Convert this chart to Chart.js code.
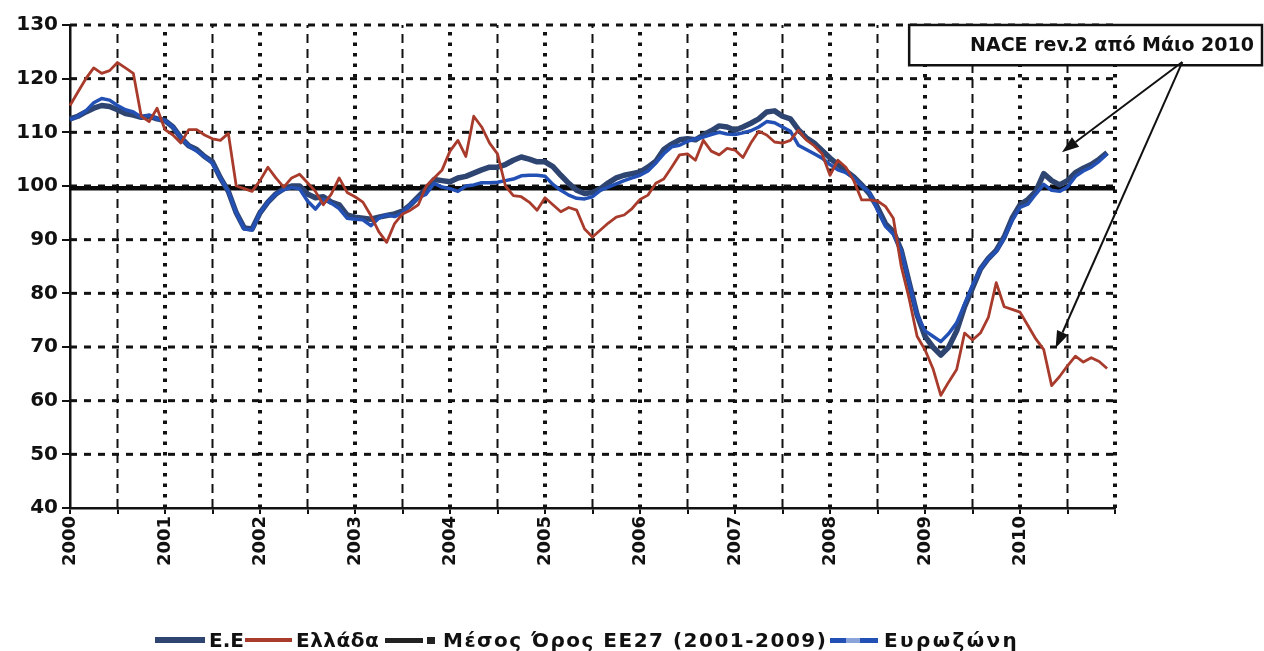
<!DOCTYPE html>
<html lang="el">
<head>
    <meta charset="UTF-8">
    <title>Δείκτης - Ε.Ε, Ελλάδα, Ευρωζώνη</title>
    <style>
        * {
            margin: 0;
            padding: 0;
            box-sizing: border-box;
        }

        body {
            background-color: #fff;
            font-family: "DejaVu Sans", Verdana, sans-serif;
        }

        .wrap {
            position: relative;
            width: 1264px;
            height: 651px;
        }

        .legend-item {
            position: absolute;
            top: 628px;
            display: flex;
            align-items: center;
            font-weight: bold;
            font-size: 20px;
            color: #111;
            white-space: nowrap;
        }

        .mark {
            display: inline-block;
            margin-right: 4px;
        }
    </style>
    <script src="https://cdn.jsdelivr.net/npm/chart.js"></script>
</head>
<body>
    <div class="wrap">
        <canvas id="chart" width="1264" height="651"></canvas>

        <!-- Legend -->
        <div class="legend-item" style="left:155px">
            <span class="mark" style="width:50px;height:6px;background:#2e4471"></span>Ε.Ε
        </div>
        <div class="legend-item" style="left:245px;letter-spacing:0.5px">
            <span class="mark" style="width:47px;height:4px;background:#a83b2b"></span>Ελλάδα
        </div>
        <div class="legend-item" style="left:385px;letter-spacing:1.5px">
            <span class="mark" style="width:38px;height:5px;background:#222"></span>
            <span class="mark" style="width:8px;height:7px;background:#222;margin-right:8px"></span>Μέσος Όρος ΕΕ27 (2001-2009)
        </div>
        <div class="legend-item" style="left:830px;letter-spacing:2.4px">
            <span class="mark" style="width:16px;height:5px;background:#2350b4;margin-right:0"></span>
            <span class="mark" style="width:14px;height:5px;background:#8aa3d8;margin-right:0"></span>
            <span class="mark" style="width:18px;height:5px;background:#2350b4;margin-right:6px"></span>Ευρωζώνη
        </div>
    </div>

    <script>
        // ---- data ----
        const years = ['2000', '2001', '2002', '2003', '2004', '2005', '2006', '2007', '2008', '2009', '2010'];
        const yTicks = [40, 50, 60, 70, 80, 90, 100, 110, 120, 130];

        // monthly values, Jan 2000 - Dec 2010
        const euValues = [
            112.5, 113, 113.8, 114.5, 115, 114.8, 114.2, 113.5, 113.2, 112.8, 113, 112.5,
            112.2, 111, 109, 107.5, 106.8, 105.5, 104.5, 101.5, 99, 95, 92.2, 92,
            95, 97, 98.5, 99.5, 100, 100, 98.5, 97.8, 98, 97, 96.5, 94.6,
            94.2, 94, 93.8, 94.2, 94.5, 94.8, 95.3, 96.5, 98, 99.5, 101.2, 101,
            100.8, 101.5, 101.8, 102.4, 103, 103.5, 103.5, 104, 104.8, 105.4, 105, 104.5,
            104.5, 103.6, 102, 100.5, 99.2, 98.6, 98.8, 99.5, 100.6, 101.5, 102, 102.3,
            102.6, 103.5, 104.6, 106.8, 107.8, 108.6, 108.8, 108.6, 109.5, 110.3, 111.2, 111,
            110.4, 111, 111.7, 112.5, 113.8, 114, 113, 112.5, 110.5, 109, 108, 106.6,
            105.2, 104, 102.8, 101.7, 100.2, 98.5, 96, 93, 91.5, 88, 82, 76,
            72, 70, 68.5, 70, 73, 77.5, 81, 84.5, 86.5, 88, 90.5, 94,
            96.5, 97.5, 99, 102.3, 101, 100.2, 101, 102.5, 103.3, 104, 105, 106.2
        ];

        const greeceValues = [
            115, 117.5, 120, 122, 121, 121.5, 123, 122, 121, 113, 112, 114.5,
            110.5, 109.5, 108, 110.5, 110.5, 109.5, 108.8, 108.5, 109.8, 100, 99.5, 99,
            101, 103.5, 101.5, 99.8, 101.5, 102.2, 100.6, 99, 96.5, 98.5, 101.5, 98.8,
            98, 97, 94.5, 91.5, 89.5, 93, 94.8, 95.5, 96.5, 100, 101.5, 103,
            106.5, 108.5, 105.5, 113, 111, 108, 106, 100, 98.2, 98, 97, 95.5,
            97.8, 96.5, 95.2, 96, 95.5, 92, 90.5, 91.8, 93.1, 94.2, 94.6, 95.8,
            97.5, 98.3, 100.5, 101.3, 103.5, 105.8, 106, 104.8, 108.5, 106.5, 105.8, 107,
            106.7, 105.3, 108, 110.2, 109.5, 108.2, 108, 108.5, 110.4, 108.6, 107.5, 106,
            102, 104.8, 103.5, 101, 97.4, 97.4, 97.2, 96.2, 94, 85, 79, 72,
            69.5, 66, 61, 63.5, 65.8, 72.6, 71.3, 72.6, 75.5, 82, 77.5, 77,
            76.5, 74, 71.5, 69.5, 62.8, 64.5, 66.5, 68.3, 67.2, 68, 67.3, 66
        ];

        const euroAreaValues = [
            112.3, 113, 114, 115.5, 116.3, 116, 115, 114.2, 113.8, 112.8, 113.2, 112.5,
            112.2, 111, 109, 107.5, 106.5, 105.5, 104.2, 101.5, 99, 95, 92, 91.8,
            95, 97, 98.5, 99.3, 99.7, 99.5, 97.2, 95.7, 97.5, 96.8, 95.8, 94,
            93.8, 93.7, 92.6, 94, 94.6, 94.3, 95, 96.5, 97.8, 98.5, 100.5, 99.8,
            99.5, 99, 100, 100.2, 100.6, 100.6, 100.7, 101, 101.3, 101.9, 102, 102,
            101.8, 100.3, 99.2, 98.3, 97.7, 97.6, 98, 99.2, 99.8, 100.4, 101, 101.5,
            102, 102.8, 104.3, 106, 107.3, 107.6, 108.3, 108.8, 109.1, 109.6, 110, 109.7,
            109.6, 109.9, 110.3, 111, 112, 111.8, 111, 110.2, 107.6, 106.8, 106, 105.2,
            104, 103, 102.5, 101.5, 100, 98.8, 95.5, 92.5, 91, 88, 82, 76,
            73, 72, 71, 72.5, 74.5, 78, 81.5, 84.5, 86.5, 87.8, 90.3, 93.5,
            96, 96.6, 98.5, 100.3, 99.2, 99, 99.8, 101.8, 102.8, 103.5, 104.6, 106
        ];

        const eu27Average = 99.6; // Μέσος Όρος ΕΕ27 (2001-2009)

        // note box and arrows, in axis units (month index / index value)
        const noteText = 'NACE rev.2 από Μάιο 2010';
        const noteBox = { fromMonth: 106, top: 130, bottom: 122.5 };
        const arrowFrom = { month: 140.5, value: 123.1 };
        const arrowTips = [{ month: 125.3, value: 106.3 }, { month: 124.5, value: 69.8 }];

        // month labels Jan 2000 ... Jan 2011 (last one only closes the axis)
        const months = [];
        years.forEach(y => { for (let m = 1; m <= 12; m++) months.push(y + '-' + String(m).padStart(2, '0')); });
        months.push('2011-01');

        const averageLine = months.map(() => eu27Average);

        // dashed grid drawn by hand (years dotted, half-years dashed)
        const gridLines = {
            id: 'gridLines',
            beforeDatasetsDraw(chart) {
                const { ctx, chartArea: a, scales: { x, y } } = chart;
                ctx.save();
                ctx.strokeStyle = '#111';
                ctx.lineCap = 'butt';

                ctx.lineWidth = 3;
                ctx.setLineDash([7, 7]);
                yTicks.forEach(v => {
                    if (v === 40) return;
                    const py = y.getPixelForValue(v);
                    ctx.beginPath();
                    ctx.moveTo(a.left, py);
                    ctx.lineTo(a.right, py);
                    ctx.stroke();
                });

                for (let i = 6; i < months.length; i += 6) {
                    const px = x.getPixelForValue(i);
                    if (i % 12 === 0) {
                        ctx.lineWidth = 4;
                        ctx.setLineDash([3.5, 7]);
                    } else {
                        ctx.lineWidth = 2;
                        ctx.setLineDash([9, 6]);
                    }
                    ctx.beginPath();
                    ctx.moveTo(px, a.bottom);
                    ctx.lineTo(px, a.top);
                    ctx.stroke();
                }
                ctx.restore();
            }
        };

        function arrow(ctx, x0, y0, x1, y1) {
            const ang = Math.atan2(y1 - y0, x1 - x0);
            const len = 17, half = 6;
            const bx = x1 - len * Math.cos(ang), by = y1 - len * Math.sin(ang);
            ctx.beginPath();
            ctx.moveTo(x0, y0);
            ctx.lineTo(bx, by);
            ctx.stroke();
            ctx.beginPath();
            ctx.moveTo(x1, y1);
            ctx.lineTo(bx + half * Math.sin(ang), by - half * Math.cos(ang));
            ctx.lineTo(bx - half * Math.sin(ang), by + half * Math.cos(ang));
            ctx.closePath();
            ctx.fill();
        }

        const note = {
            id: 'note',
            afterDatasetsDraw(chart) {
                const { ctx, scales: { x, y } } = chart;
                const left = x.getPixelForValue(noteBox.fromMonth);
                const right = chart.width - 2;
                const top = y.getPixelForValue(noteBox.top);
                const bottom = y.getPixelForValue(noteBox.bottom);
                ctx.save();
                ctx.fillStyle = '#fff';
                ctx.fillRect(left, top, right - left, bottom - top);
                ctx.strokeStyle = '#111';
                ctx.lineWidth = 2.5;
                ctx.strokeRect(left, top, right - left, bottom - top);

                ctx.fillStyle = '#111';
                ctx.font = 'bold 19px "DejaVu Sans"';
                ctx.textAlign = 'right';
                ctx.textBaseline = 'middle';
                ctx.fillText(noteText, right - 8, (top + bottom) / 2 + 1);

                ctx.lineWidth = 2;
                const x0 = x.getPixelForValue(arrowFrom.month);
                const y0 = y.getPixelForValue(arrowFrom.value);
                arrowTips.forEach(t => arrow(ctx, x0, y0, x.getPixelForValue(t.month), y.getPixelForValue(t.value)));
                ctx.restore();
            }
        };

        const tickFont = { family: '"DejaVu Sans"', weight: 'bold' };

        new Chart(document.getElementById('chart'), {
            type: 'line',
            data: {
                labels: months,
                datasets: [
                    { label: 'Ε.Ε', data: euValues, borderColor: '#2e4471', borderWidth: 5.5, order: 2 },
                    { label: 'Ελλάδα', data: greeceValues, borderColor: '#a83b2b', borderWidth: 2.8, order: 0 },
                    { label: 'Μέσος Όρος ΕΕ27 (2001-2009)', data: averageLine, borderColor: '#0a0a0a', borderWidth: 4.5, order: 3 },
                    { label: 'Ευρωζώνη', data: euroAreaValues, borderColor: '#2350b4', borderWidth: 3.5, order: 1 }
                ]
            },
            options: {
                responsive: false,
                animation: false,
                devicePixelRatio: 1,
                layout: { padding: { top: 25, right: 149, bottom: 0, left: 0 } },
                elements: {
                    point: { radius: 0 },
                    line: { tension: 0, borderJoinStyle: 'round', fill: false }
                },
                plugins: {
                    legend: { display: false },
                    tooltip: { enabled: false }
                },
                scales: {
                    x: {
                        type: 'category',
                        offset: false,
                        afterFit(scale) { scale.height = 143; },
                        grid: {
                            drawOnChartArea: false,
                            tickLength: 6,
                            lineWidth: 2,
                            color: ctx => (ctx.index % 6 === 0 ? '#111' : 'rgba(0,0,0,0)')
                        },
                        border: { display: true, color: '#111', width: 2.5 },
                        ticks: {
                            autoSkip: false,
                            minRotation: 90,
                            maxRotation: 90,
                            padding: 2,
                            color: '#111',
                            font: { ...tickFont, size: 18 },
                            callback(val, i) {
                                return i % 12 === 0 && i < months.length - 1 ? months[i].slice(0, 4) : '';
                            }
                        }
                    },
                    y: {
                        min: 40,
                        max: 130,
                        afterFit(scale) { scale.width = 70; },
                        afterBuildTicks(scale) { scale.ticks = yTicks.map(v => ({ value: v })); },
                        grid: { drawOnChartArea: false, tickLength: 8, lineWidth: 2, color: '#111' },
                        border: { display: true, color: '#111', width: 2.5 },
                        ticks: {
                            padding: 4,
                            color: '#111',
                            font: { ...tickFont, size: 20 }
                        }
                    }
                }
            },
            plugins: [gridLines, note]
        });
    </script>
</body>
</html>
